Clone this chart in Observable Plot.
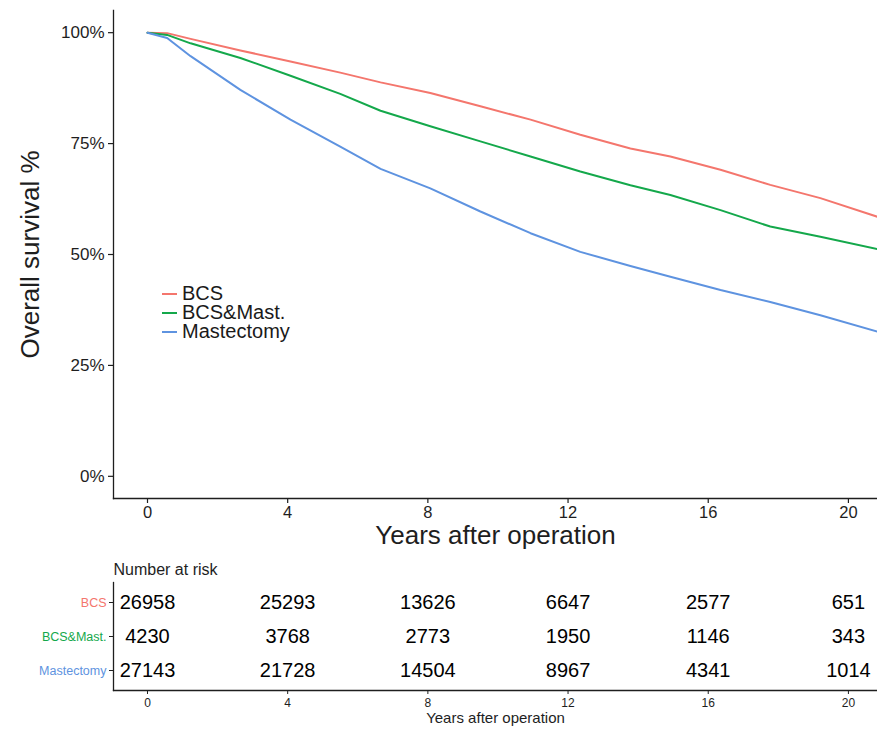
<!DOCTYPE html>
<html>
<head>
<meta charset="utf-8">
<script src="https://cdn.jsdelivr.net/npm/d3@7"></script>
<script src="https://cdn.jsdelivr.net/npm/@observablehq/plot@0.6"></script>
<style>
  body { margin: 0; background: #fff; font-family: "Liberation Sans", Arial, sans-serif; }
  #chart { position: relative; width: 877px; height: 729px; overflow: hidden; }
  #chart svg { position: absolute; left: 0; }
  .legend { position: absolute; left: 162px; top: 284px; font-size: 20px; line-height: 19px; color: #1a1a1a; }
  .legend div { display: flex; align-items: center; white-space: nowrap; }
  .legend .sw { display: inline-block; width: 15px; height: 2px; margin-right: 5px; }
</style>
</head>
<body>
<div id="chart"></div>
<script>
// Survival curves (years after operation, overall survival in %)
const groups = ["BCS", "BCS&Mast.", "Mastectomy"];
const colors = ["#F4766D", "#14A84B", "#5E93E0"];

const years        = [0, 0.56, 1.23, 2.65, 4.08, 5.5, 6.65, 8.07, 9.5, 10.93, 12.35, 13.78, 14.92, 16.35, 17.77, 19.2, 20.83];
const bcsSurv      = [100, 99.9, 98.6, 96.0, 93.5, 91.0, 88.8, 86.4, 83.4, 80.4, 77.0, 73.9, 72.1, 69.1, 65.7, 62.7, 58.5];
const mixedSurv    = [100, 99.5, 97.6, 94.3, 90.3, 86.2, 82.4, 78.9, 75.5, 72.1, 68.7, 65.6, 63.4, 60.0, 56.3, 54.0, 51.2];
const mastSurv     = [100, 98.8, 94.7, 87.1, 80.4, 74.3, 69.3, 64.9, 59.7, 54.8, 50.6, 47.4, 45.0, 42.0, 39.3, 36.3, 32.6];

// Number at risk table
const riskYears = [0, 4, 8, 12, 16, 20];
const bcsRisk   = [26958, 25293, 13626, 6647, 2577, 651];
const mixedRisk = [4230, 3768, 2773, 1950, 1146, 343];
const mastRisk  = [27143, 21728, 14504, 8967, 4341, 1014];

// Axis ticks
const xTicks = [0, 4, 8, 12, 16, 20];
const yTicks = [0, 25, 50, 75, 100];
const xDomain = [-0.97, 20.83];
const yDomain = [-5, 105];

const xTitle = "Years after operation";
const yTitle = "Overall survival %";
const riskTitle = "Number at risk";

const FONT = '"Liberation Sans", Arial, sans-serif';
const INK = "#1e1e1e";

const survSeries = [bcsSurv, mixedSurv, mastSurv];
const curves = groups.flatMap((g, i) => years.map((t, j) => ({group: g, t, s: survSeries[i][j]})));

const riskSeries = [bcsRisk, mixedRisk, mastRisk];
const risk = groups.flatMap((g, i) => riskYears.map((t, j) => ({group: g, t, n: riskSeries[i][j]})));

const chart = document.getElementById("chart");

const main = Plot.plot({
  width: 877,
  height: 552,
  marginLeft: 113,
  marginRight: 0,
  marginTop: 10,
  marginBottom: 54,
  style: {fontFamily: FONT, background: "transparent", color: INK, overflow: "visible"},
  x: {domain: xDomain},
  y: {domain: yDomain},
  color: {domain: groups, range: colors},
  marks: [
    Plot.axisX({ticks: xTicks, tickSize: 5, tickPadding: 3, fontSize: 16.5, label: null, strokeWidth: 1.2}),
    Plot.axisY({ticks: yTicks, tickSize: 5, tickPadding: 4, fontSize: 17, label: null, strokeWidth: 1.2, tickFormat: d => d + "%"}),
    Plot.frame({anchor: "left", strokeWidth: 1.3}),
    Plot.frame({anchor: "bottom", strokeWidth: 1.3}),
    Plot.line(curves, {x: "t", y: "s", z: "group", stroke: "group", strokeWidth: 2}),
    Plot.text([xTitle], {frameAnchor: "bottom", dy: 45, fontSize: 26, fill: INK}),
    Plot.text([yTitle], {frameAnchor: "left", dx: -83, rotate: -90, textAnchor: "middle", fontSize: 26, fill: INK})
  ]
});
main.style.top = "0px";
chart.appendChild(main);

const table = Plot.plot({
  width: 877,
  height: 177,
  marginLeft: 113,
  marginRight: 0,
  marginTop: 30,
  marginBottom: 39,
  style: {fontFamily: FONT, background: "transparent", color: INK, overflow: "visible"},
  x: {domain: xDomain},
  y: {type: "point", domain: groups, padding: 0.565},
  color: {domain: groups, range: colors},
  marks: [
    Plot.frame({anchor: "left", strokeWidth: 1.3}),
    Plot.frame({anchor: "bottom", strokeWidth: 1.3}),
    Plot.axisX({ticks: xTicks, tickSize: 4, tickPadding: 4, fontSize: 12, label: null}),
    Plot.axisY({tickSize: 4, tickPadding: 3, fontSize: 12.5, label: null, fill: d => d}),
    Plot.text(risk, {x: "t", y: "group", text: d => String(d.n), fontSize: 20, fill: "#000"}),
    Plot.text([riskTitle], {frameAnchor: "top-left", dy: -19, textAnchor: "start", fontSize: 16, fill: INK}),
    Plot.text([xTitle], {frameAnchor: "bottom", dy: 32, fontSize: 15, fill: INK})
  ]
});
table.style.top = "552px";
chart.appendChild(table);

// Legend inside the plotting area
const legend = document.createElement("div");
legend.className = "legend";
groups.forEach((g, i) => {
  const row = document.createElement("div");
  const sw = document.createElement("span");
  sw.className = "sw";
  sw.style.background = colors[i];
  row.appendChild(sw);
  row.appendChild(document.createTextNode(g));
  legend.appendChild(row);
});
chart.appendChild(legend);
</script>
</body>
</html>
